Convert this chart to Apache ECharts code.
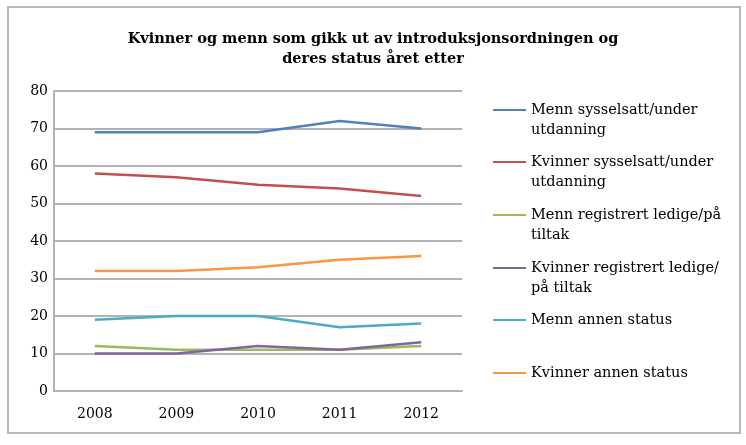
<!DOCTYPE html>
<html>
<head>
<meta charset="utf-8">
<script src="https://cdn.jsdelivr.net/npm/echarts@6/dist/echarts.min.js"></script>
<style>html,body{margin:0;padding:0;background:#fff}#c{width:746px;height:445px}</style>
</head>
<body>
<div id="c"></div>
<script>
const categories = ['2008', '2009', '2010', '2011', '2012'];
const seriesNames = [
  'Menn sysselsatt/under\nutdanning',
  'Kvinner sysselsatt/under\nutdanning',
  'Menn registrert ledige/på\ntiltak',
  'Kvinner registrert ledige/\npå tiltak',
  'Menn annen status',
  'Kvinner annen status'
];
const mennSysselsatt = [69, 69, 69, 72, 70];
const kvinnerSysselsatt = [58, 57, 55, 54, 52];
const mennLedige = [12, 11, 11, 11, 12];
const kvinnerLedige = [10, 10, 12, 11, 13];
const mennAnnen = [19, 20, 20, 17, 18];
const kvinnerAnnen = [32, 32, 33, 35, 36];
const yTicks = [0, 10, 20, 30, 40, 50, 60, 70, 80];

const colors = ['#4F81BD', '#C0504D', '#9BBB59', '#8064A2', '#4BACC6', '#F79646'];
const values = [mennSysselsatt, kvinnerSysselsatt, mennLedige, kvinnerLedige, mennAnnen, kvinnerAnnen];
const legendIconY = [110, 162, 215, 268, 320, 373];
const LH = 20;
const serif = '"DejaVu Serif", serif';

const legends = seriesNames.map((name, i) => {
  const twoLine = name.indexOf('\n') >= 0;
  return {
    left: 493,
    top: twoLine ? legendIconY[i] - 1.5 * LH : legendIconY[i] - 0.5 * LH,
    orient: 'vertical',
    padding: 0,
    itemWidth: 33,
    itemHeight: 2,
    itemGap: 5,
    icon: 'rect',
    selectedMode: false,
    data: [{ name: name }],
    formatter: twoLine ? (n => ' \n' + n) : (n => n),
    textStyle: {
      fontFamily: serif,
      fontSize: 14.5,
      color: '#000',
      lineHeight: LH
    }
  };
});

const chart = echarts.init(document.getElementById('c'));
chart.setOption({
  animation: false,
  color: colors,
  title: {
    text: 'Kvinner og menn som gikk ut av introduksjonsordningen og\nderes status året etter',
    left: 'center',
    top: 24,
    textStyle: { fontFamily: serif, fontWeight: 'bold', fontSize: 14.5, color: '#000', lineHeight: 20 }
  },
  graphic: [{
    type: 'rect',
    shape: { x: 8, y: 7, width: 732, height: 426 },
    style: { fill: 'none', stroke: '#b8b8b8', lineWidth: 2 }
  }],
  legend: legends,
  grid: { left: 54, top: 91, width: 408, height: 300, containLabel: false },
  xAxis: {
    type: 'category',
    data: categories,
    boundaryGap: true,
    axisLine: { lineStyle: { color: '#b3b3b3', width: 2 } },
    axisTick: { show: false },
    axisLabel: { fontFamily: serif, fontSize: 14, color: '#000', margin: 16 }
  },
  yAxis: {
    type: 'value',
    min: yTicks[0],
    max: yTicks[yTicks.length - 1],
    interval: 10,
    axisLine: { show: true, lineStyle: { color: '#b3b3b3', width: 2 } },
    axisTick: { show: false },
    splitLine: { lineStyle: { color: '#b3b3b3', width: 2 } },
    axisLabel: { fontFamily: serif, fontSize: 14, color: '#000', margin: 6 }
  },
  series: seriesNames.map((name, i) => ({
    name: name,
    type: 'line',
    data: values[i],
    symbol: 'none',
    lineStyle: { width: 2.4, color: colors[i] },
    itemStyle: { color: colors[i] }
  }))
});
</script>
</body>
</html>
